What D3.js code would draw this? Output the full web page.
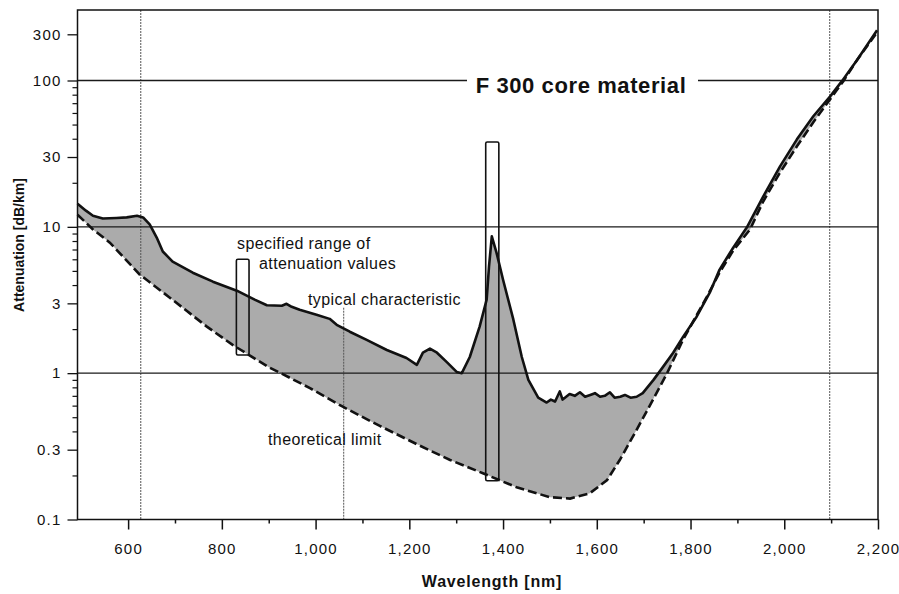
<!DOCTYPE html>
<html><head><meta charset="utf-8">
<script src="https://cdn.jsdelivr.net/npm/d3@7"></script>
<style>
html,body{margin:0;padding:0;background:#fff;}
svg{display:block;font-family:"Liberation Sans",Arial,Helvetica,sans-serif;}
</style></head><body>
<svg id="chart" width="899" height="594"></svg>
<script>
// ---- data (wavelength in nm, attenuation in dB/km) ----
const typicalWavelength = [492,510,525,546,575,597,619,632,646,661,674,695,738,781,832,870,896,928,938,949,966,1002,1030,1045,1073,1109,1152,1194,1216,1229,1244,1259,1280,1301,1312,1329,1350,1365,1370,1376,1386,1400,1422,1440,1454,1475,1493,1502,1511,1521,1527,1532,1542,1553,1564,1575,1586,1596,1607,1617,1628,1638,1650,1660,1672,1685,1698,1721,1741,1763,1784,1813,1841,1862,1891,1920,1955,1991,2027,2062,2098,2123,2155,2198];
const typicalAttenuation = [14.4,12.9,11.9,11.4,11.5,11.6,11.9,11.6,10.4,8.45,6.78,5.78,4.86,4.22,3.66,3.18,2.91,2.89,2.98,2.84,2.71,2.51,2.35,2.14,1.92,1.69,1.44,1.27,1.14,1.38,1.47,1.38,1.19,1.02,1.00,1.29,2.08,3.18,5.35,8.6,6.67,4.35,2.32,1.29,0.90,0.68,0.63,0.66,0.64,0.75,0.66,0.68,0.72,0.70,0.74,0.69,0.71,0.73,0.69,0.70,0.74,0.68,0.69,0.71,0.68,0.69,0.73,0.90,1.10,1.38,1.77,2.43,3.55,5.10,7.21,9.89,16.1,25.9,39.6,57.0,78.0,99,162,331];
const limitWavelength = [492,525,561,625,689,768,823,902,926,988,1058,1137,1222,1287,1357,1429,1500,1543,1585,1622,1649,1685,1720,1750,1784,1835,1862,1891,1927,1955,1991,2027,2062,2098,2126,2155,2198];
const limitAttenuation = [12.1,9.6,7.8,4.71,3.28,2.08,1.56,1.09,1.00,0.79,0.59,0.436,0.32,0.255,0.207,0.166,0.142,0.139,0.151,0.186,0.255,0.41,0.66,1.0,1.69,3.33,4.87,6.88,9.6,14.9,23.5,35.5,51.9,74.5,98.9,162,315];
const rangeStart = [831,1363];
const rangeEnd = [858,1391];
const rangeLow = [1.33,0.184];
const rangeHigh = [6.0,38];
const xTickValues = [600,800,1000,1200,1400,1600,1800,2000,2200];
const xMinorTickValues = [700,900,1100,1300,1500,1700,1900,2100];
const yTickValues = [0.1,0.3,1,3,10,30,100,300];
const yTickLabels = ["0.1","0.3","1","3","10","30","100","300"];
const gridAttenuation = [1,10,100];
const markerWavelength = [627,2097];
const pointerWavelength = [1060];
const pointerTop = [2.8];

// ---- scales ----
const pL = 77.5, pR = 878, pT = 10, pB = 519.5;
const x = d3.scaleLinear().domain([492,2200]).range([pL,pR]);
const yLog = d3.scaleLinear()
  .domain([-1, 2, Math.log10(300), Math.log10(535)])
  .range([pB, 80.5, 34.3, pT]);
const y = v => yLog(Math.log10(v));

const svg = d3.select("#chart");

const typical = typicalWavelength.map((w,i)=>({w, a:typicalAttenuation[i]}));
const limit = limitWavelength.map((w,i)=>({w, a:limitAttenuation[i]}));
const line = d3.line().x(d=>x(d.w)).y(d=>y(d.a));

// shaded band between curves
svg.append("path")
  .attr("d", line(typical.concat(limit.slice().reverse())) + "Z")
  .attr("fill", "#ababab");

// vertical marker lines
svg.selectAll(".vmark").data(markerWavelength).join("line")
  .attr("x1", d=>x(d)).attr("x2", d=>x(d))
  .attr("y1", pT).attr("y2", pB)
  .attr("stroke", "#555").attr("stroke-width", 1).attr("stroke-dasharray", "2,1");
svg.selectAll(".vpointer").data(pointerWavelength).join("line")
  .attr("x1", d=>x(d)).attr("x2", d=>x(d))
  .attr("y1", (d,i)=>y(pointerTop[i])).attr("y2", pB)
  .attr("stroke", "#555").attr("stroke-width", 1).attr("stroke-dasharray", "2,1");

// horizontal grid
svg.selectAll(".hgrid").data(gridAttenuation).join("line")
  .attr("x1", pL).attr("x2", pR)
  .attr("y1", d=>y(d)).attr("y2", d=>y(d))
  .attr("stroke", "#1a1a1a").attr("stroke-width", 1.3);

// curves
svg.append("path").attr("d", line(limit))
  .attr("fill","none").attr("stroke","#111").attr("stroke-width",2.6)
  .attr("stroke-dasharray","9,4");
svg.append("path").attr("d", line(typical))
  .attr("fill","none").attr("stroke","#111").attr("stroke-width",2.6)
  .attr("stroke-linejoin","round");

// specified range boxes
svg.selectAll(".rangebox").data(rangeStart).join("rect")
  .attr("x", (d)=>x(d))
  .attr("width", (d,i)=>x(rangeEnd[i])-x(d))
  .attr("y", (d,i)=>y(rangeHigh[i]))
  .attr("height", (d,i)=>y(rangeLow[i])-y(rangeHigh[i]))
  .attr("rx", 1.5)
  .attr("fill","none").attr("stroke","#111").attr("stroke-width",1.6);

// frame
svg.append("rect").attr("x",pL).attr("y",pT)
  .attr("width",pR-pL).attr("height",pB-pT)
  .attr("fill","none").attr("stroke","#111").attr("stroke-width",1.5);

// title
svg.append("rect").attr("x",467).attr("y",68).attr("width",231).attr("height",28).attr("fill","#fff");
svg.append("text").attr("x",581).attr("y",93).attr("text-anchor","middle")
  .attr("font-size",22).attr("letter-spacing","0.6px").attr("font-weight","bold")
  .attr("fill","#111").text("F 300 core material");

// annotations
const ann = svg.append("g").attr("font-size",16).attr("fill","#111").attr("letter-spacing","0.4px");
ann.append("text").attr("x",237).attr("y",249).text("specified range of");
ann.append("text").attr("x",259).attr("y",269).text("attenuation values");
ann.append("text").attr("x",308).attr("y",305).text("typical characteristic");
ann.append("text").attr("x",268).attr("y",445).text("theoretical limit");

// x axis
const xAxis = d3.axisBottom(x).tickValues(xTickValues).tickSize(10).tickPadding(14)
  .tickFormat(d3.format(","));
const gx = svg.append("g").attr("transform",`translate(0,${pB})`).call(xAxis);
gx.select(".domain").remove();
gx.selectAll("line").attr("stroke","#111").attr("stroke-width",1.5);
gx.selectAll("text").attr("font-size",15).attr("letter-spacing","1.2px")
  .attr("fill","#111").attr("font-family",'"Liberation Sans",Arial,sans-serif');
const gxm = svg.append("g").attr("transform",`translate(0,${pB})`)
  .call(d3.axisBottom(x).tickValues(xMinorTickValues).tickSize(4).tickFormat(""));
gxm.select(".domain").remove();
gxm.selectAll("line").attr("stroke","#111").attr("stroke-width",1.5);

// y axis (log values on a piecewise-linear scale)
const yAxis = d3.axisLeft(yLog).tickValues(yTickValues.map(Math.log10)).tickSize(10).tickPadding(6)
  .tickFormat((d,i)=>yTickLabels[i]);
const gy = svg.append("g").attr("transform",`translate(${pL},0)`).call(yAxis);
gy.select(".domain").remove();
gy.selectAll("line").attr("stroke","#111").attr("stroke-width",1.3);
gy.selectAll("text").attr("font-size",15).attr("letter-spacing","1.2px")
  .attr("fill","#111").attr("font-family",'"Liberation Sans",Arial,sans-serif');
const yMinor = [];
[0.1,1,10].forEach(dec=>[2,4,5,6,7,8,9].forEach(k=>yMinor.push(Math.log10(dec*k))));
const gym = svg.append("g").attr("transform",`translate(${pL},0)`)
  .call(d3.axisLeft(yLog).tickValues(yMinor).tickSize(5).tickFormat(""));
gym.select(".domain").remove();
gym.selectAll("line").attr("stroke","#111").attr("stroke-width",1.2);

// axis titles
svg.append("text").attr("x",492).attr("y",587).attr("text-anchor","middle")
  .attr("font-size",16).attr("font-weight","bold").attr("letter-spacing","0.8px")
  .attr("fill","#111").text("Wavelength [nm]");
svg.append("text").attr("transform","translate(24,245) rotate(-90)")
  .attr("text-anchor","middle").attr("font-size",14).attr("font-weight","bold")
  .attr("fill","#111").text("Attenuation [dB/km]");
</script>
</body></html>
